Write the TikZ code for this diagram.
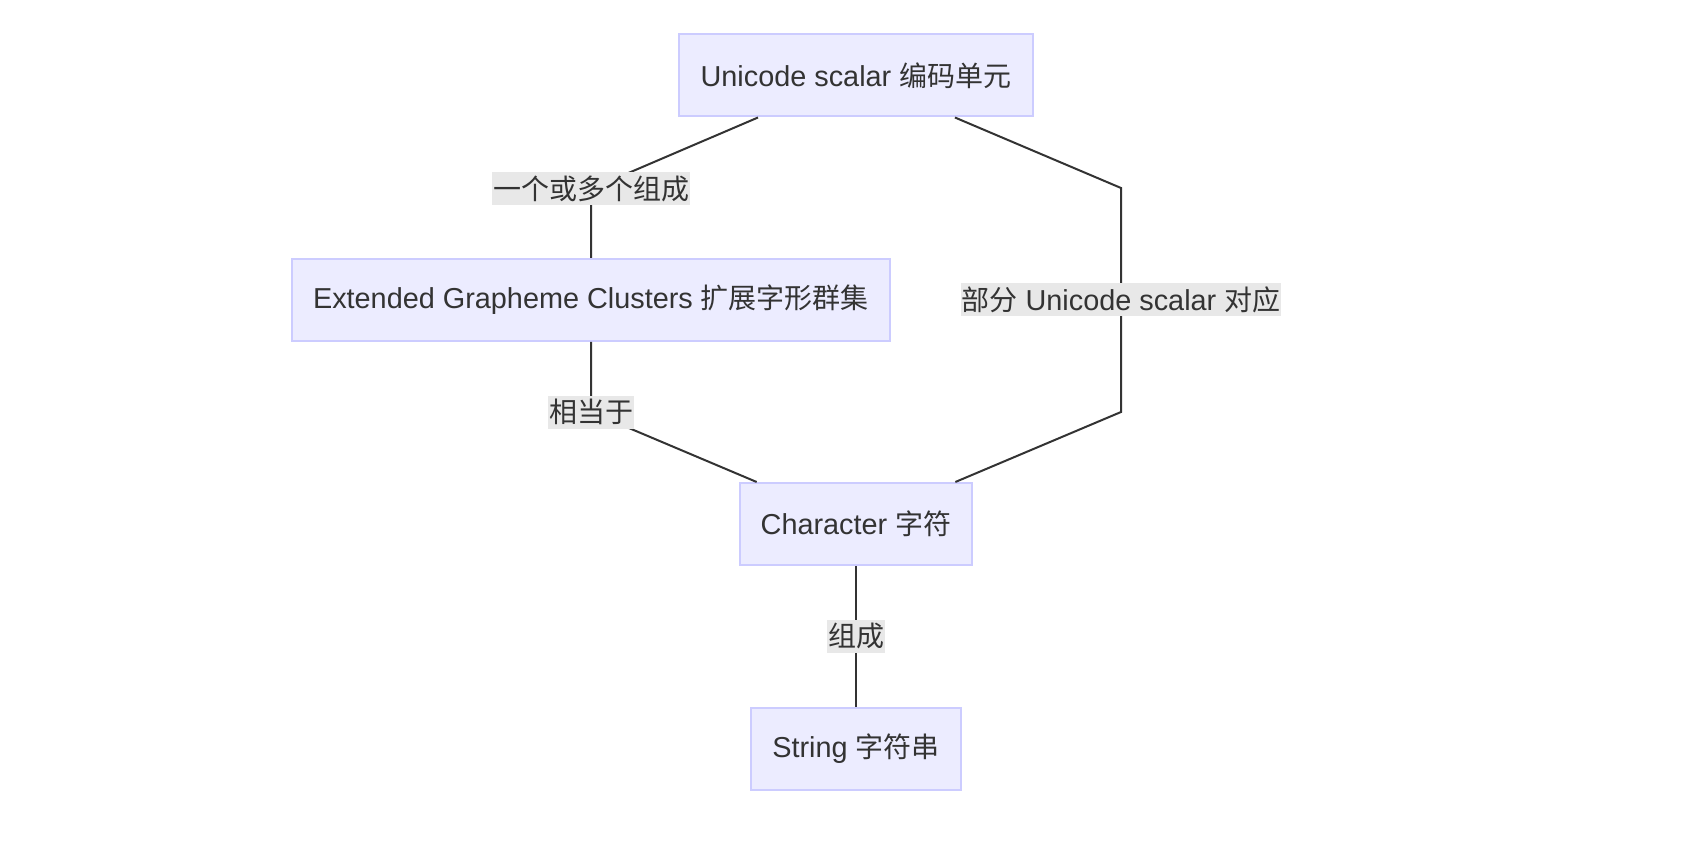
\documentclass[tikz,border=0pt]{standalone}
\usepackage{fontspec}
\setmainfont[Scale=1.03]{Liberation Sans}
\newfontfamily\cjk{Noto Sans CJK SC}
\definecolor{boxfill}{HTML}{ECECFF}
\definecolor{boxline}{HTML}{CCCCFF}
\definecolor{lblfill}{HTML}{E8E8E8}
\definecolor{ink}{HTML}{333333}

\begin{document}
\begin{tikzpicture}[
        x=0.5pt, y=-0.5pt,
        every node/.style={font=\fontsize{14pt}{17pt}\selectfont, text=ink},
        unitbox/.style={draw=boxline, fill=boxfill, line width=1pt,
            minimum height=41pt, inner xsep=0pt},
        edgelbl/.style={fill=lblfill, inner xsep=0.5pt, inner ysep=0pt,
            minimum height=16.5pt},
        link/.style={draw=ink, line width=1pt},
    ]
    \useasboundingbox (0,0) rectangle (1682,866);

    % Define boxes.
    \node[unitbox, minimum width=177pt] (uni) at (856,75.5) {Unicode scalar {\cjk 编码单元}};
    \node[unitbox, minimum width=299pt] (ext) at (591,300) {Extended Grapheme Clusters {\cjk 扩展字形群集}};
    \node[unitbox, minimum width=116pt] (chr) at (856,524) {Character {\cjk 字符}};
    \node[unitbox, minimum width=105pt] (str) at (856,748.5) {String {\cjk 字符串}};

    % Define bends.
    \coordinate (b1) at (591,189);
    \coordinate (b2) at (591,412);
    \coordinate (r1) at (1121,188);
    \coordinate (r2) at (1121,412);

    % Connectors with labels.
    \path[link] (uni) -- (b1) node[edgelbl] (l1) {\cjk 一个或多个组成} -- (ext);
    \path[link] (ext) -- (b2) node[edgelbl] (l2) {\cjk 相当于} -- (chr);
    \path[link] (uni) -- (r1) -- node[edgelbl] (l3) {{\cjk 部分} Unicode scalar {\cjk 对应}} (r2) -- (chr);
    \path[link] (chr) -- node[edgelbl] (l4) {\cjk 组成} (str);
\end{tikzpicture}
\end{document}
